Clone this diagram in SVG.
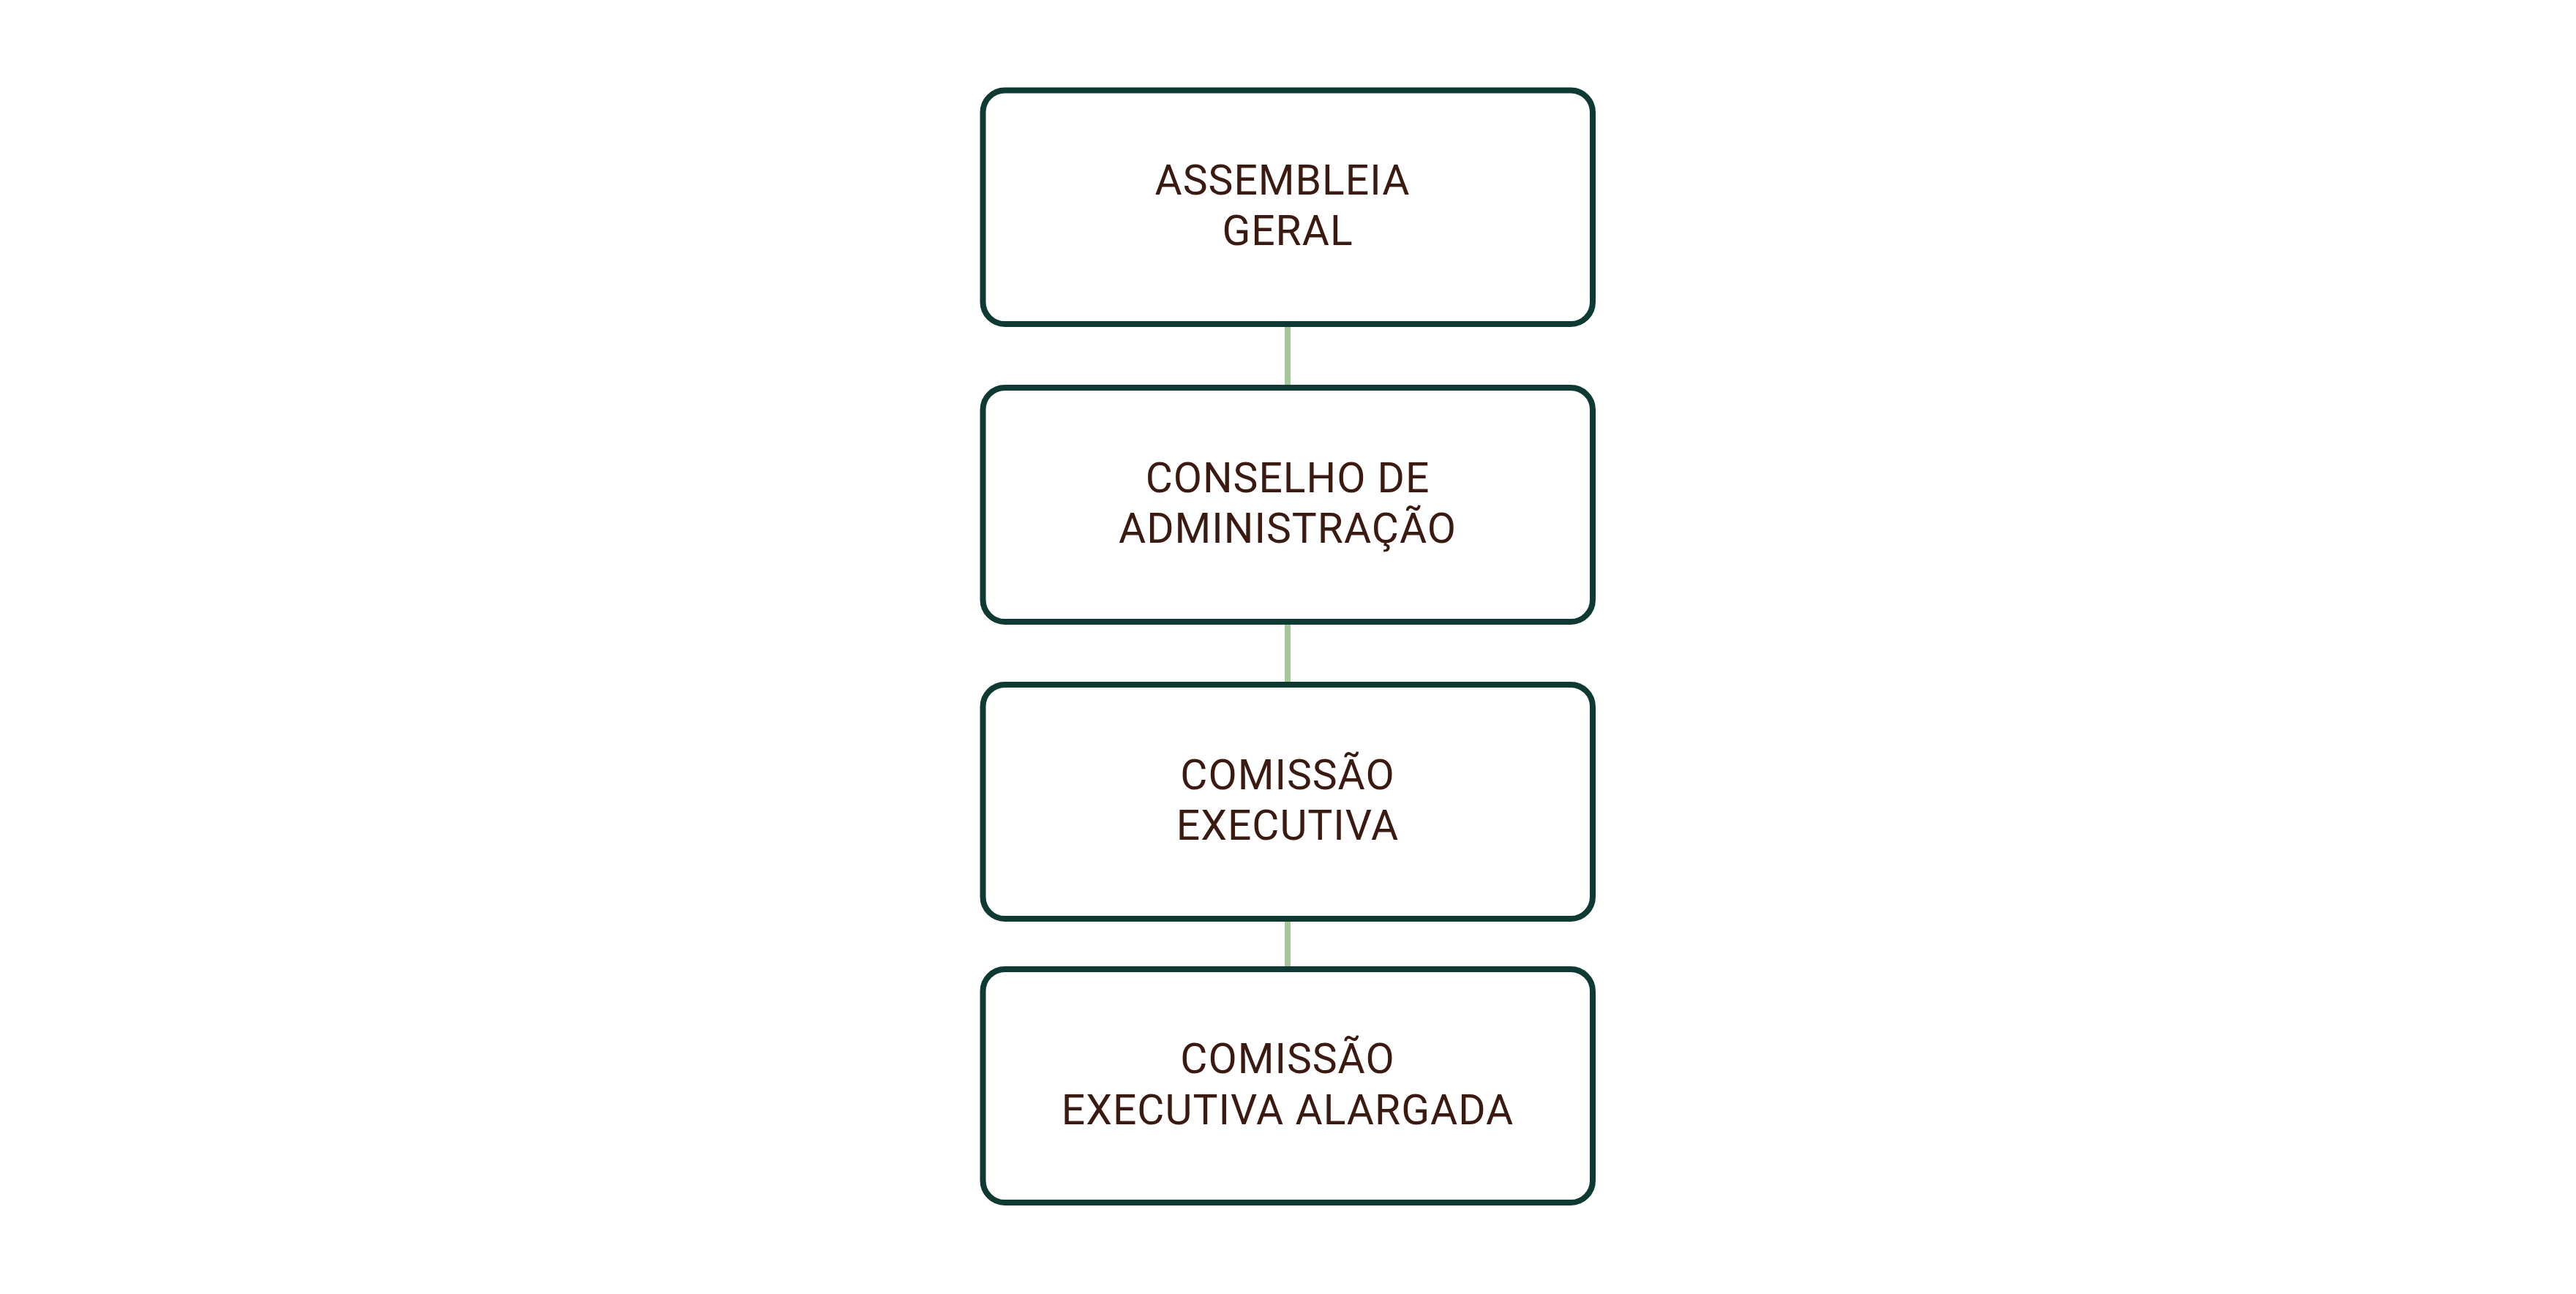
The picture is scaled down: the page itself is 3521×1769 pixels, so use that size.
<svg xmlns="http://www.w3.org/2000/svg" width="3521" height="1769" viewBox="0 0 3521 1769">
<style>
.box{fill:#ffffff;stroke:#0f3a33;stroke-width:8}
.lbl{font-family:Roboto,"Liberation Sans",sans-serif;font-size:57px;fill:#3b1a12;text-anchor:middle;letter-spacing:1px}
.conn{stroke:#a6c898;stroke-width:8;fill:none}
</style>
<rect width="3521" height="1769" fill="#ffffff"/>
<g id="connectors">
<line class="conn" x1="1760" y1="447" x2="1760" y2="526"/>
<line class="conn" x1="1760" y1="854" x2="1760" y2="932"/>
<line class="conn" x1="1760" y1="1260" x2="1760" y2="1321"/>
</g>
<g id="assembleia-geral">
<rect class="box" x="1343.5" y="123.5" width="833.5" height="319.5" rx="30" ry="30"/>
<text class="lbl" x="1753" y="265.5">ASSEMBLEIA</text>
<text class="lbl" x="1760" y="335">GERAL</text>
</g>
<g id="conselho-administracao">
<rect class="box" x="1343.5" y="530" width="833.5" height="320" rx="30" ry="30"/>
<text class="lbl" x="1760" y="672.5">CONSELHO DE</text>
<text class="lbl" x="1760" y="742">ADMINISTRAÇÃO</text>
</g>
<g id="comissao-executiva">
<rect class="box" x="1343.5" y="936" width="833.5" height="320" rx="30" ry="30"/>
<text class="lbl" x="1760" y="1078.5">COMISSÃO</text>
<text class="lbl" x="1760" y="1148">EXECUTIVA</text>
</g>
<g id="comissao-executiva-alargada">
<rect class="box" x="1343.5" y="1325" width="833.5" height="319" rx="30" ry="30"/>
<text class="lbl" x="1760" y="1467">COMISSÃO</text>
<text class="lbl" x="1760" y="1537">EXECUTIVA ALARGADA</text>
</g>
</svg>
